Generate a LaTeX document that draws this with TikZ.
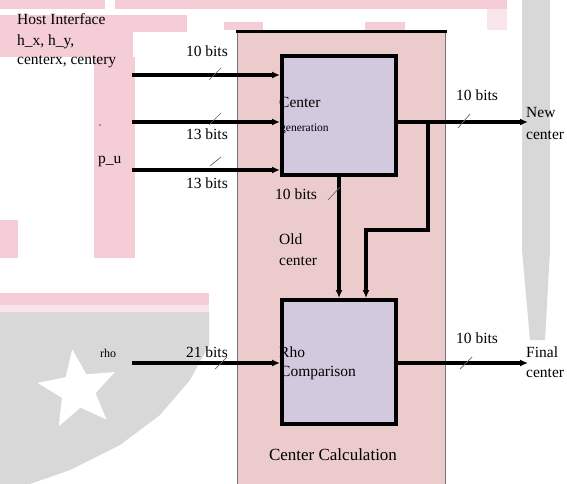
\documentclass[tikz,border=0pt]{standalone}
\usepackage{fontspec}
\setmainfont{Liberation Serif}
\usetikzlibrary{arrows.meta,shapes.geometric}
\definecolor{wmpink}{HTML}{F4CDD6}
\definecolor{wmlight}{HTML}{FAE6EA}
\definecolor{wmgray}{HTML}{D8D8D8}
\definecolor{calcfill}{HTML}{EBCBCB}
\definecolor{boxfill}{HTML}{D3C9DF}
\tikzset{
  lbl/.style={font=\fontsize{15.5bp}{17bp}\selectfont, inner sep=0pt},
  smalllbl/.style={font=\fontsize{11.5bp}{13bp}\selectfont, inner sep=0pt},
  biglbl/.style={font=\fontsize{17bp}{19bp}\selectfont, inner sep=0pt},
  bus/.style={line width=3.2bp, -{Latex[length=8bp,width=7bp]}},
  slash/.style={line width=0.7bp, draw=black!60},
  unit/.style={draw=black, line width=4bp, fill=boxfill, inner sep=0pt},
}
\begin{document}
\begin{tikzpicture}[x=1bp,y=-1bp]
\useasboundingbox (0,0) rectangle (567,484);
\fill[white] (0,0) rectangle (567,484);
% --- faint watermark ---
\fill[wmpink] (0,0) rectangle (105,9);
\fill[wmpink] (115,0) rectangle (507,9);
\fill[wmlight] (487,9) rectangle (507,30);
\fill[wmpink] (0,15) rectangle (187,32);
\fill[wmpink] (0,32) rectangle (133,57);
\fill[wmpink] (94,57) rectangle (135,258);
\fill[wmpink] (0,220) rectangle (18,258);
\fill[wmpink] (224,22) rectangle (263,30);
\fill[wmpink] (365,22) rectangle (405,30);
\fill[wmpink] (0,293) rectangle (209,305);
\fill[wmlight] (0,305) rectangle (209,312);
\fill[wmgray] (0,312) -- (209,312) -- (209,345) -- (190,380) -- (160,415)
  -- (120,445) -- (70,470) -- (30,484) -- (0,484) -- cycle;
\node[star, star points=5, star point ratio=2.3, fill=white, minimum size=82bp,
  rotate=8, inner sep=0pt] (wmstar) at (78,390) {};
\fill[wmgray] (522,0) -- (550,0) -- (550,250) -- (545,340) -- (530,340) -- (522,250) -- cycle;
% --- container ---
\fill[calcfill] (237,30) rectangle (445,484);
\draw[black!55, line width=0.9bp] (237,30) -- (237,484) (445,30) -- (445,484);
\draw[line width=3.2bp] (236,31.5) -- (447,31.5);
\node[biglbl] (calc) at (333,455) {Center Calculation};
% --- units ---
\node[unit, minimum width=114bp, minimum height=119bp, anchor=north west] (cg) at (280,54) {};
\node[unit, minimum width=114bp, minimum height=124bp, anchor=north west] (rc) at (280,298) {};
\node[lbl, anchor=west] (cgt) at (279,102) {Center};
\node[smalllbl, anchor=west] (cgs) at (280,129) {generation};
\node[lbl, anchor=west] (rct) at (279,352) {Rho};
\node[lbl, anchor=west] (rcs) at (280,373) {Comparison};
% --- left texts ---
\node[lbl, anchor=west] (host) at (17,19) {Host Interface};
\node[lbl, anchor=west] (hxy) at (17,42) {h\_x, h\_y,};
\node[lbl, anchor=west] (cxy) at (17,62) {centerx, centery};
\node[font=\fontsize{6bp}{6bp}\selectfont, inner sep=0pt] (tiny) at (100,127) {``};
\node[lbl, anchor=west] (pu) at (98,161) {p\_u};
\node[font=\fontsize{12bp}{13bp}\selectfont, inner sep=0pt, anchor=west] (rho) at (100,353) {rho};
% --- inputs ---
\coordinate (in1) at (132,75);
\coordinate (in2) at (132,122);
\coordinate (in3) at (132,170);
\coordinate (in4) at (132,363);
\draw[bus] (in1) -- (in1 -| cg.west);
\draw[bus] (in2) -- (in2 -| cg.west);
\draw[bus] (in3) -- (in3 -| cg.west);
\draw[bus] (in4) -- (in4 -| rc.west);
\node[lbl, anchor=east] (b1) at (228,51) {10 bits};
\node[lbl, anchor=east] (b2) at (228,134) {13 bits};
\node[lbl, anchor=east] (b3) at (228,183) {13 bits};
\node[lbl, anchor=east] (b4) at (228,352) {21 bits};
\draw[slash] (209,80) -- (221,68);
\draw[slash] (209,125) -- (221,113);
\draw[slash] (210,166) -- (221,157);
\draw[slash] (215,369) -- (227,357);
% --- outputs ---
\coordinate (newend) at (528,122);
\coordinate (finend) at (528,363);
\draw[bus] (newend -| cg.east) -- (newend);
\draw[bus] (finend -| rc.east) -- (finend);
\node[lbl, anchor=west] (new1) at (526,113) {New};
\node[lbl, anchor=west] (new2) at (526,135) {center};
\node[lbl, anchor=west] (fin1) at (526,352) {Final};
\node[lbl, anchor=west] (fin2) at (526,373) {center};
\node[lbl, anchor=west] (b5) at (456,95) {10 bits};
\node[lbl, anchor=west] (b6) at (456,338) {10 bits};
\draw[slash] (458,128) -- (470,114);
\draw[slash] (460,369) -- (472,357);
% --- internal connections ---
\coordinate (br) at (428,122);
\coordinate (j1) at (428,230);
\coordinate (j2) at (366,230);
\coordinate (oc) at (339,200);
\draw[bus] (br) -- (j1) -- (j2) -- (j2 |- rc.north);
\draw[bus] (oc |- cg.south) -- (oc |- rc.north);
\node[lbl, anchor=west] (b7) at (275,194) {10 bits};
\draw[slash] (328,200) -- (340,187);
\node[lbl, anchor=west] (old1) at (279,239) {Old};
\node[lbl, anchor=west] (old2) at (279,261) {center};
\end{tikzpicture}
\end{document}
